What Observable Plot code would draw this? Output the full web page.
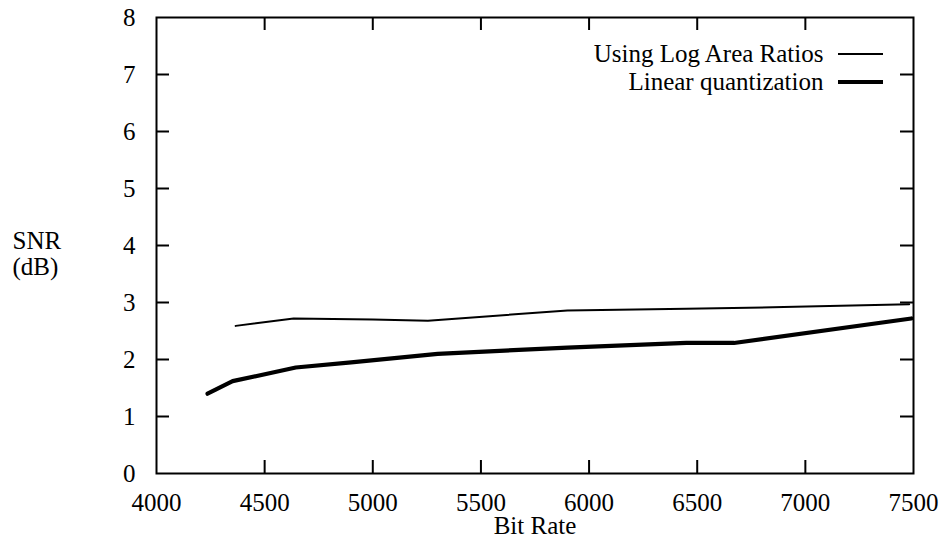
<!DOCTYPE html>
<html><head><meta charset="utf-8">
<script src="https://cdn.jsdelivr.net/npm/d3@7"></script>
<script src="https://cdn.jsdelivr.net/npm/@observablehq/plot@0.6"></script>
<style>body{margin:0;background:#fff;} svg{display:block;} svg text{font-family:"Liberation Serif","Times New Roman",serif;}</style>
</head><body><div id="chart"></div>
<script>
// Data
const larBitRate = [4366, 4634, 5000, 5255, 5900, 6450, 6900, 7480];
const larSNR     = [2.59, 2.72, 2.70, 2.68, 2.86, 2.89, 2.92, 2.97];
const linBitRate = [4236, 4352, 4644, 4900, 5300, 5900, 6450, 6670, 7490];
const linSNR     = [1.40, 1.62, 1.86, 1.95, 2.10, 2.21, 2.29, 2.29, 2.72];
const xTicks = [4000, 4500, 5000, 5500, 6000, 6500, 7000, 7500];
const yTicks = [0, 1, 2, 3, 4, 5, 6, 7, 8];
const seriesNames = ["Using Log Area Ratios", "Linear quantization"];
const xLabel = "Bit Rate";
const yLabel = "SNR\n(dB)";

const W = 947, H = 539, mT = 17, mB = 66, mL = 156, mR = 34;
const frameW = W - mL - mR, frameH = H - mT - mB, tick = 13;
const font = "Liberation Serif";
const fs = 25;

const lar = larBitRate.map((x, i) => ({x, y: larSNR[i]}));
const lin = linBitRate.map((x, i) => ({x, y: linSNR[i]}));
const xIn = xTicks.slice(1, -1), yIn = yTicks.slice(1, -1);

const chart = Plot.plot({
  width: W, height: H,
  marginTop: mT, marginBottom: mB, marginLeft: mL, marginRight: mR,
  style: `font-family: 'Liberation Serif', serif; font-size: ${fs}px; color: #000; background: #fff;`,
  x: {domain: [4000, 7500], ticks: xTicks, tickSize: 0, tickPadding: 20, label: null, tickFormat: d => String(d)},
  y: {domain: [0, 8], ticks: yTicks, tickSize: 0, tickPadding: 21, label: null},
  marks: [
    Plot.frame({stroke: "#000", strokeWidth: 2}),
    Plot.tickX(xIn, {x: d => d, insetTop: frameH - tick, stroke: "#000", strokeWidth: 2}),
    Plot.tickX(xIn, {x: d => d, insetBottom: frameH - tick, stroke: "#000", strokeWidth: 2}),
    Plot.tickY(yIn, {y: d => d, insetRight: frameW - tick, stroke: "#000", strokeWidth: 2}),
    Plot.tickY(yIn, {y: d => d, insetLeft: frameW - tick, stroke: "#000", strokeWidth: 2}),
    Plot.line(lar, {x: "x", y: "y", stroke: "#000", strokeWidth: 2}),
    Plot.line(lin, {x: "x", y: "y", stroke: "#000", strokeWidth: 4.2}),
    Plot.text([xLabel], {frameAnchor: "bottom", lineAnchor: "middle", dy: 52, fontSize: fs, fontFamily: font, fill: "#000"}),
    Plot.text([yLabel], {frameAnchor: "left", dx: -144, dy: 8, textAnchor: "start", lineHeight: 1.05, fontSize: fs, fontFamily: font, fill: "#000"}),
    Plot.text([seriesNames[0]], {frameAnchor: "top-right", lineAnchor: "middle", dx: -90, dy: 36, textAnchor: "end", fontSize: fs, fontFamily: font, fill: "#000"}),
    Plot.text([seriesNames[1]], {frameAnchor: "top-right", lineAnchor: "middle", dx: -90, dy: 64, textAnchor: "end", fontSize: fs, fontFamily: font, fill: "#000"})
  ]
});
document.getElementById("chart").appendChild(chart);

// legend line samples
const svg = d3.select(chart);
const lx1 = mL + frameW - 75, lx2 = mL + frameW - 30;
svg.append("line").attr("x1", lx1).attr("x2", lx2).attr("y1", mT + 37).attr("y2", mT + 37)
  .attr("stroke", "#000").attr("stroke-width", 2);
svg.append("line").attr("x1", lx1).attr("x2", lx2).attr("y1", mT + 65).attr("y2", mT + 65)
  .attr("stroke", "#000").attr("stroke-width", 4.2);
</script>
</body></html>
